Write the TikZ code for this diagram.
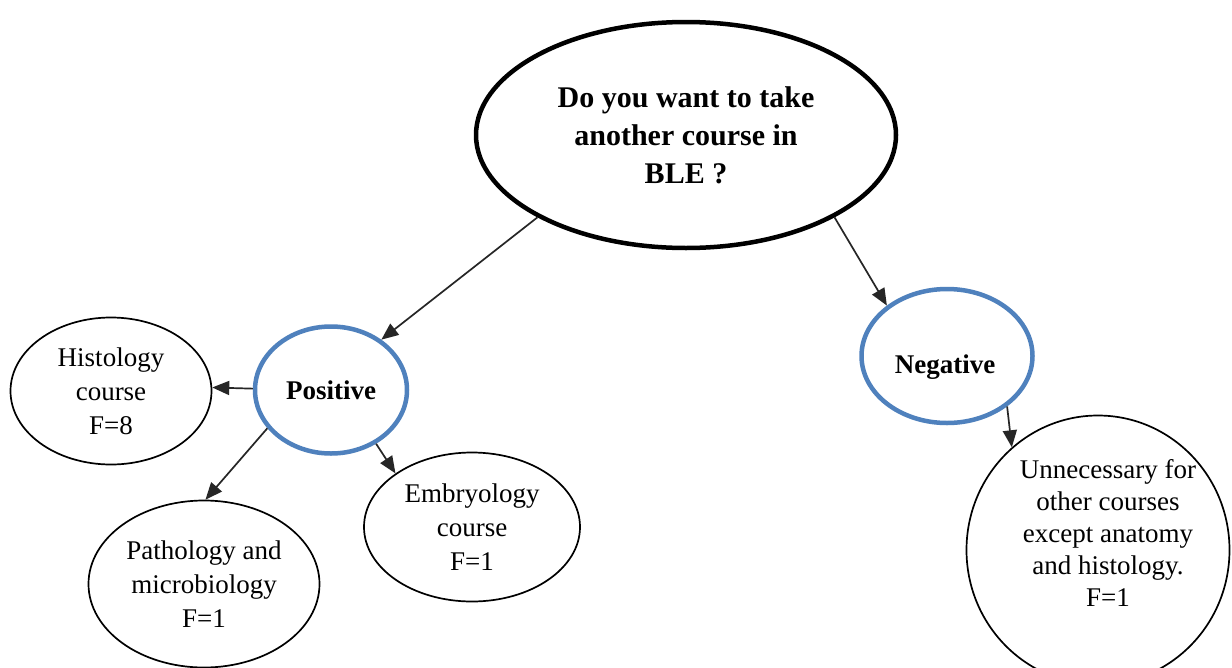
\documentclass[tikz,border=0pt]{standalone}
\usepackage{fontspec}
\setmainfont{Liberation Serif}
\usetikzlibrary{shapes.geometric,arrows.meta}
\definecolor{ringblue}{RGB}{79,129,189}
\begin{document}
\begin{tikzpicture}[x=1pt,y=-1pt,
  oval/.style={ellipse, draw=black, line width=1.7pt, inner sep=0pt, align=center,
    font=\fontsize{27}{34}\selectfont},
  plaintext/.style={inner sep=0pt, align=center, font=\fontsize{27}{32}\selectfont},
  ring/.style={ellipse, draw=ringblue, line width=4.5pt, inner sep=0pt, align=center,
    font=\bfseries\fontsize{27}{32}\selectfont},
  ringtext/.style={inner sep=0pt, font=\bfseries\fontsize{27}{32}\selectfont},
  bigoval/.style={ellipse, draw=black, line width=4.5pt, inner sep=0pt, align=center,
    font=\bfseries\fontsize{30}{38}\selectfont},
  conn/.style={line width=1.7pt, draw=black!85, -{Triangle[length=17pt,width=14pt]}}]
\fill[white] (0,0) rectangle (1232,667);
\path[use as bounding box] (0,0) rectangle (1232,667);

\node[bigoval, minimum width=420pt, minimum height=226pt] (q) at (686,135)
  {Do you want to take\\another course in\\BLE ?};
\node[ring, minimum width=152pt, minimum height=127pt] (pos) at (331,390) {Positive};
\node[ring, minimum width=171pt, minimum height=134pt] (neg) at (947,356) {};
\node[ringtext] (negt) at (945,367) {Negative};
\node[oval, minimum width=201pt, minimum height=147pt] (hist) at (111,391)
  {Histology\\course\\F=8};
\node[oval, minimum width=231pt, minimum height=167pt] (path) at (204,584)
  {Pathology and\\microbiology\\F=1};
\node[oval, minimum width=216pt, minimum height=149pt] (emb) at (472,527)
  {Embryology\\course\\F=1};
\node[oval, minimum width=263pt, minimum height=269pt] (unn) at (1098,550) {};
\node[plaintext] (unnt) at (1108,533)
  {Unnecessary for\\other courses\\except anatomy\\and histology.\\F=1};

\draw[conn] (q.209) -- (pos.45);
\draw[conn] (q.331) -- (neg.140);
\draw[conn] (pos.179) -- (hist.2);
\draw[conn] (pos.211) -- (path.89);
\draw[conn] (pos.310) -- (emb.145);
\draw[conn] (neg.320) -- (unn.130);
\end{tikzpicture}
\end{document}
